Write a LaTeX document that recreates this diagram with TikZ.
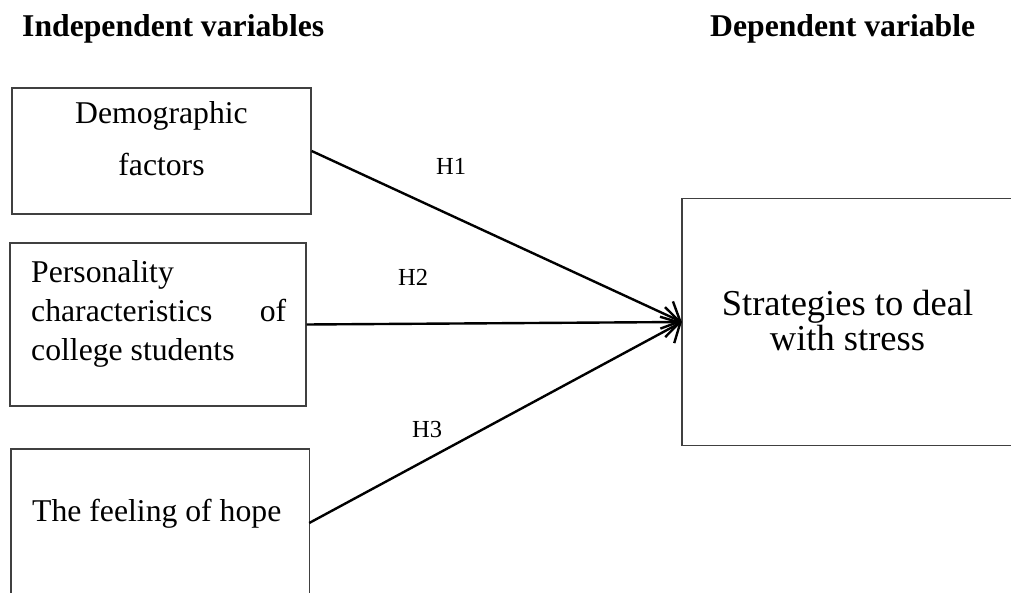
\documentclass[tikz,border=0pt]{standalone}
\usepackage{fontspec}
\setmainfont{Liberation Serif}
\usetikzlibrary{arrows.meta}
\tikzset{
  boxline/.style={draw=black!75, line width=1.4pt},
  link/.style={black, line width=2.4pt, -{Straight Barb[length=15pt,width=30pt,line width=2.4pt]}},
  headtext/.style={anchor=base west, inner sep=0pt, font=\fontsize{31.7}{36}\selectfont\bfseries},
  bodytext/.style={inner sep=0pt, font=\fontsize{31.7}{39}\selectfont},
  hyptext/.style={anchor=base west, inner sep=0pt, font=\fontsize{24.5}{28}\selectfont},
}
\begin{document}
\begin{tikzpicture}[x=1pt,y=-1pt]
\useasboundingbox (0,0) rectangle (1011,593);
% headings
\node[headtext] (ivhead) at (22,37) {Independent variables};
\node[headtext] (dvhead) at (710,37) {Dependent variable};
% boxes
\node[boxline, inner sep=0pt, minimum width=299pt, minimum height=126pt] (box1) at (161.5,151) {};
\node[boxline, inner sep=0pt, minimum width=296pt, minimum height=163pt] (box2) at (158,324.5) {};
\node[draw=none, inner sep=0pt, minimum width=298pt, minimum height=148pt] (box3) at (160,523) {};
\draw[boxline] (box3.south west) -- (box3.north west) -- (box3.north east) -- (box3.south east);
\node[draw=none, inner sep=0pt, minimum width=340pt, minimum height=246pt] (dv) at (852,322) {};
\draw[boxline] (dv.north east) -- (dv.north west) -- (dv.south west) -- (dv.south east);
% texts
\node[bodytext, anchor=base] (t1) at (161.5,124)
  {\parbox[t]{299pt}{\centering\fontsize{31.7}{52}\selectfont Demographic\\ factors}};
\node[bodytext, anchor=base west] (t2) at (31,283)
  {\parbox[t]{255pt}{\raggedright Personality\\ characteristics\hfill of\\ college students}};
\node[bodytext, anchor=base west] (t3) at (32,521) {The feeling of hope};
\node[inner sep=0pt, anchor=base] (t4) at (847.5,316)
  {\parbox[t]{320pt}{\centering\fontsize{36.5}{31}\selectfont Strategies to deal\\ with stress}};
% connectors
\draw[link] (box1.east) -- (dv.west);
\draw[link] (box2.east) -- (dv.west);
\draw[link] (box3.east) -- (dv.west);
% hypothesis labels
\node[hyptext] (h1) at (436,175) {H1};
\node[hyptext] (h2) at (398,286) {H2};
\node[hyptext] (h3) at (412,437) {H3};
\end{tikzpicture}
\end{document}
